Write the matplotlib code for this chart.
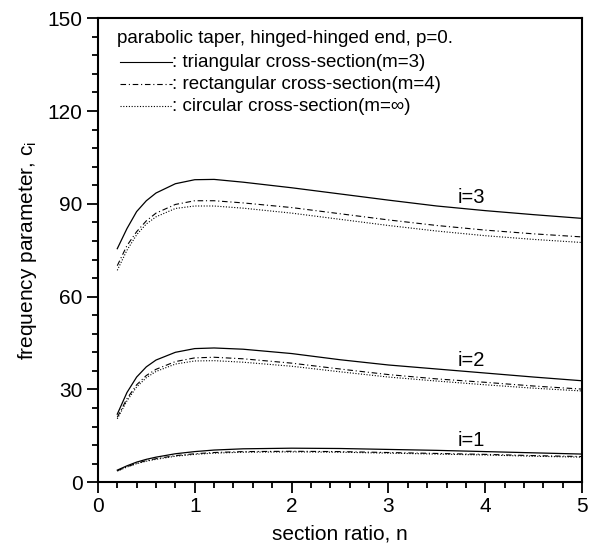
import numpy as np
import matplotlib
matplotlib.use('Agg')
import matplotlib.pyplot as plt
from matplotlib.ticker import MultipleLocator

plt.rcParams['font.family'] = ['Liberation Sans', 'DejaVu Sans']
plt.rcParams['mathtext.fontset'] = 'custom'
plt.rcParams['mathtext.rm'] = 'Liberation Sans'
plt.rcParams['mathtext.it'] = 'Liberation Sans'

# section ratio n
n = [0.2, 0.3, 0.4, 0.5, 0.6, 0.8, 1.0, 1.2, 1.5, 2.0, 2.5, 3.0, 3.5, 4.0, 4.5, 5.0]

# i=1
tri_1 = [3.9, 5.3, 6.5, 7.4, 8.1, 9.2, 9.9, 10.4, 10.8, 11.0, 10.9, 10.6, 10.3, 9.9, 9.5, 9.1]
rect_1 = [3.7, 5.0, 6.1, 7.0, 7.6, 8.6, 9.2, 9.6, 9.9, 10.0, 9.9, 9.6, 9.3, 9.0, 8.6, 8.3]
circ_1 = [3.6, 4.9, 6.0, 6.8, 7.4, 8.4, 9.0, 9.4, 9.7, 9.8, 9.7, 9.4, 9.1, 8.8, 8.4, 8.1]
# i=2
tri_2 = [22.0, 29.0, 34.0, 37.3, 39.5, 42.0, 43.2, 43.4, 43.0, 41.6, 39.6, 37.9, 36.6, 35.3, 34.0, 32.8]
rect_2 = [21.0, 27.0, 31.5, 34.5, 36.5, 39.0, 40.2, 40.4, 39.9, 38.5, 36.6, 34.8, 33.4, 32.3, 31.1, 30.1]
circ_2 = [20.5, 26.3, 30.8, 33.8, 35.8, 38.2, 39.2, 39.3, 38.8, 37.5, 35.7, 34.0, 32.7, 31.5, 30.4, 29.5]
# i=3
tri_3 = [75.5, 82.0, 87.5, 91.0, 93.5, 96.5, 97.8, 97.9, 97.0, 95.2, 93.2, 91.2, 89.3, 87.8, 86.5, 85.3]
rect_3 = [70.0, 76.5, 81.0, 84.5, 87.0, 89.8, 91.0, 91.0, 90.3, 88.8, 86.8, 84.8, 83.0, 81.5, 80.3, 79.3]
circ_3 = [68.5, 75.0, 80.0, 83.5, 85.8, 88.5, 89.3, 89.3, 88.6, 87.0, 85.0, 83.0, 81.2, 79.7, 78.5, 77.5]

mode_labels = ['i=1', 'i=2', 'i=3']
label_pos = [(3.86, 13.6), (3.86, 39.2), (3.86, 92.1)]

fig = plt.figure(figsize=(5.97, 5.53), dpi=100)
ax = fig.add_axes([0.164, 0.128, 0.811, 0.839])

dashdot = (0, (5, 2.5, 1, 2.5))
dotted = (0, (1, 1.5))

for tri, rect, circ in [(tri_1, rect_1, circ_1), (tri_2, rect_2, circ_2), (tri_3, rect_3, circ_3)]:
    ax.plot(n, tri, color='black', lw=0.9, ls='-')
    ax.plot(n, rect, color='black', lw=0.8, ls=dashdot)
    ax.plot(n, circ, color='black', lw=0.8, ls=dotted)

for lab, (xp, yp) in zip(mode_labels, label_pos):
    ax.text(xp, yp, lab, ha='center', va='center', fontsize=14.5)

# legend text block
ax.text(0.2, 143.5, 'parabolic taper, hinged-hinged end, p=0.', fontsize=13.5, va='center')
leg_y = [135.8, 128.6, 121.5]
leg_txt = [': triangular cross-section(m=3)', ': rectangular cross-section(m=4)',
           ': circular cross-section(m=\u221e)']
leg_ls = ['-', dashdot, dotted]
for yy, tt, ls in zip(leg_y, leg_txt, leg_ls):
    ax.plot([0.23, 0.76], [yy, yy], color='black', lw=0.8, ls=ls)
    ax.text(0.77, yy, tt, fontsize=13.5, va='center')

ax.set_xlim(0, 5)
ax.set_ylim(0, 150)
ax.xaxis.set_major_locator(MultipleLocator(1))
ax.xaxis.set_minor_locator(MultipleLocator(0.2))
ax.yaxis.set_major_locator(MultipleLocator(30))
ax.yaxis.set_minor_locator(MultipleLocator(6))
ax.tick_params(which='both', direction='out', top=False, right=False, width=1.3, labelsize=15)
ax.tick_params(which='major', length=8, pad=3)
ax.tick_params(which='minor', length=4.5)
for s in ax.spines.values():
    s.set_linewidth(1.5)

ax.set_xlabel('section ratio, n', fontsize=15, labelpad=6)
ax.set_ylabel(r'frequency parameter, c$_\mathregular{i}$', fontsize=15, labelpad=6)

plt.savefig('out.png', dpi=100)
